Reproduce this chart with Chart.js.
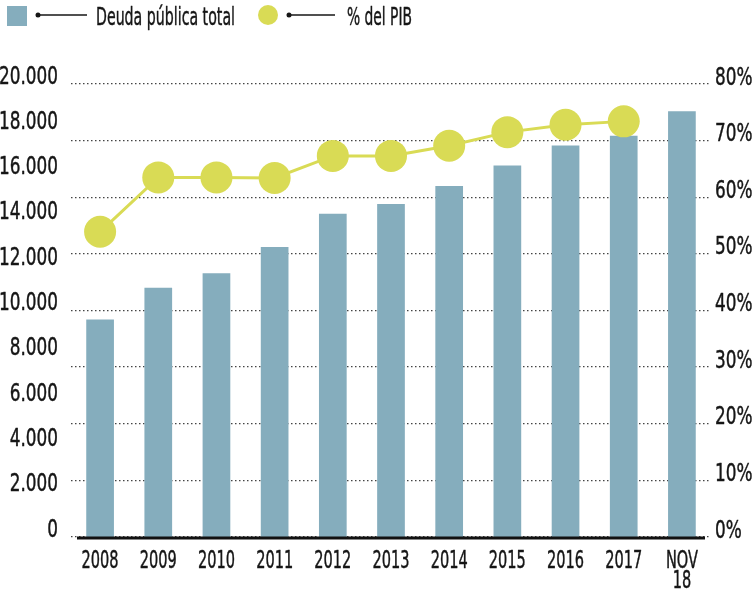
<!DOCTYPE html>
<html>
<head>
<meta charset="utf-8">
<script src="https://cdn.jsdelivr.net/npm/chart.js@4/dist/chart.umd.min.js"></script>
<style>
  html, body { margin: 0; padding: 0; background: #fff; }
  #wrap { position: relative; width: 755px; height: 590px; }
</style>
</head>
<body>
<div id="wrap"><canvas id="c" width="755" height="590"></canvas></div>
<script>
const categories = ['2008', '2009', '2010', '2011', '2012', '2013', '2014', '2015', '2016', '2017', ['NOV', '18']];
const debtTotal = [9600, 11000, 11650, 12800, 14270, 14700, 15500, 16400, 17280, 17720, 18800];
const pctPIB = [53.9, 63.5, 63.5, 63.4, 67.3, 67.3, 69.1, 71.5, 72.8, 73.4, null];
const leftTickLabels = ['0', '2.000', '4.000', '6.000', '8.000', '10.000', '12.000', '14.000', '16.000', '18.000', '20.000'];
const rightTickLabels = ['0%', '10%', '20%', '30%', '40%', '50%', '60%', '70%', '80%'];
const legendLabels = ['Deuda pública total', '% del PIB'];

const BAR = '#85adbd';
const LINE = '#d9db55';
const INK = '#161616';
const FONT = "'DejaVu Sans Condensed', 'Liberation Sans Narrow', 'Liberation Sans', sans-serif";

// The reference uses a condensed display face; emulate it by narrowing the
// glyphs horizontally and thickening them slightly (text stays real text).
const CONDENSE = { '25': 0.75, '24.5': 0.66 };
const origFill = CanvasRenderingContext2D.prototype.fillText;
function drawCondensed(ctx, text, x, y, k) {
  ctx.save();
  ctx.translate(x, y);
  ctx.scale(k, 1);
  origFill.call(ctx, text, 0, 0);
  ctx.strokeStyle = ctx.fillStyle;
  ctx.lineWidth = 0.45;
  ctx.lineJoin = 'round';
  ctx.strokeText(text, 0, 0);
  ctx.restore();
}
CanvasRenderingContext2D.prototype.fillText = function (text, x, y, maxWidth) {
  const m = /([\d.]+)px/.exec(this.font);
  const k = m ? (CONDENSE[m[1]] || 1) : 1;
  if (k === 1) return origFill.call(this, text, x, y, maxWidth);
  drawCondensed(this, text, x, y, k);
};

function legendText(ctx, txt, x, y, targetW) {
  const w = ctx.measureText(txt).width;
  drawCondensed(ctx, txt, x, y, targetW / w);
}

const legendPlugin = {
  id: 'customLegend',
  afterDraw(chart) {
    const ctx = chart.ctx;
    ctx.save();
    ctx.fillStyle = BAR;
    ctx.fillRect(7, 6, 20, 20);
    ctx.strokeStyle = INK; ctx.fillStyle = INK; ctx.lineWidth = 1.3;
    ctx.beginPath(); ctx.moveTo(38, 15); ctx.lineTo(87, 15); ctx.stroke();
    ctx.beginPath(); ctx.arc(38, 15, 2.5, 0, Math.PI * 2); ctx.fill();
    ctx.font = "25.5px " + FONT;
    ctx.textBaseline = 'alphabetic';
    ctx.textAlign = 'left';
    legendText(ctx, legendLabels[0], 96, 25, 139);
    ctx.fillStyle = LINE;
    ctx.beginPath(); ctx.arc(268, 15, 10, 0, Math.PI * 2); ctx.fill();
    ctx.fillStyle = INK; ctx.strokeStyle = INK; ctx.lineWidth = 1.3;
    ctx.beginPath(); ctx.moveTo(289, 15); ctx.lineTo(335, 15); ctx.stroke();
    ctx.beginPath(); ctx.arc(289, 15, 2.5, 0, Math.PI * 2); ctx.fill();
    legendText(ctx, legendLabels[1], 347, 25, 65);
    ctx.restore();
  }
};

const baselinePlugin = {
  id: 'baseline',
  afterDatasetsDraw(chart) {
    const x = chart.scales.x, y = chart.scales.y;
    const ctx = chart.ctx;
    const py = y.getPixelForValue(0) + 1;
    ctx.save();
    ctx.strokeStyle = '#111';
    ctx.lineWidth = 3;
    ctx.beginPath();
    ctx.moveTo(x.left + 6, py);
    ctx.lineTo(x.right - 6, py);
    ctx.stroke();
    ctx.restore();
  }
};

new Chart(document.getElementById('c'), {
  data: {
    labels: categories,
    datasets: [
      {
        type: 'line',
        label: legendLabels[1],
        data: pctPIB,
        yAxisID: 'y1',
        borderColor: LINE,
        borderWidth: 3,
        backgroundColor: LINE,
        pointBackgroundColor: LINE,
        pointBorderColor: LINE,
        pointBorderWidth: 0,
        pointRadius: 16,
        pointHoverRadius: 16,
        tension: 0,
        order: 0
      },
      {
        type: 'bar',
        label: legendLabels[0],
        data: debtTotal,
        yAxisID: 'y',
        backgroundColor: BAR,
        borderWidth: 0,
        categoryPercentage: 1,
        barPercentage: 0.476,
        order: 1
      }
    ]
  },
  options: {
    responsive: false,
    animation: false,
    devicePixelRatio: 1,
    layout: { padding: { top: 84, bottom: 0, left: 0, right: 0 } },
    plugins: { legend: { display: false }, tooltip: { enabled: false } },
    scales: {
      x: {
        grid: { display: false, drawTicks: false },
        border: { display: false },
        ticks: {
          color: INK,
          font: { family: FONT, size: 24.5, lineHeight: 0.82 },
          padding: 15,
          maxRotation: 0,
          autoSkip: false
        },
        afterFit(s) { s.height = 53; }
      },
      y: {
        position: 'left',
        min: 0, max: 20000,
        grid: { display: false },
        border: { display: false },
        ticks: {
          stepSize: 2000,
          color: INK,
          font: { family: FONT, size: 25 },
          padding: 5,
          labelOffset: -7,
          callback: (v, i) => leftTickLabels[i]
        },
        afterFit(s) { s.width = 71; }
      },
      y1: {
        position: 'right',
        min: 0, max: 80,
        grid: {
          display: true,
          drawTicks: false,
          color: '#444',
          lineWidth: 1.3
        },
        border: { display: false, dash: [1.5, 2.5] },
        ticks: {
          stepSize: 10,
          color: INK,
          font: { family: FONT, size: 25 },
          padding: 4,
          labelOffset: -6,
          callback: (v, i) => rightTickLabels[i]
        },
        afterFit(s) { s.width = 44; }
      }
    }
  },
  plugins: [legendPlugin, baselinePlugin]
});
</script>
</body>
</html>
